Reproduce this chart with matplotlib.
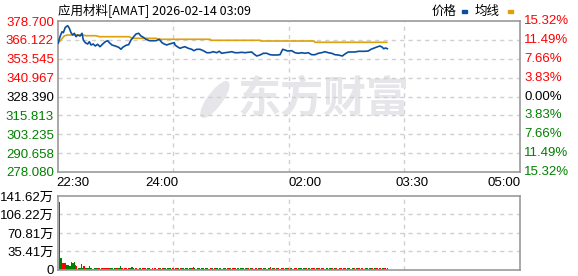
import matplotlib
matplotlib.use("Agg")
import matplotlib.pyplot as plt
from matplotlib.patches import Rectangle, Ellipse

plt.rcParams['font.family'] = ['Liberation Sans', 'Noto Sans CJK SC', 'DejaVu Sans']

RED = '#ff0000'
GREEN = '#008000'
BLUE = '#0a4fa0'
GOLD = '#dca20c'
GRID = '#d0d0d0'
EDGE = '#999999'

# price line (minutes since 22:30, price)
price_min = [0, 1.7, 3.4, 4.5, 6.2, 8.2, 9.6, 11, 12.4, 13.8, 15.2, 16.6, 18.6, 20.3, 21.4,
             23.1, 25.1, 26.5, 27.9, 29.8, 31.5, 33.5, 35.5, 37.8, 40, 42, 43.4, 45.6, 48.4,
             51.3, 53.2, 54.7, 57.5, 59.7, 61.7, 63.6, 65.9, 68.2, 70.1, 72.1, 74.4, 77.2,
             80, 82.8, 85.6, 87.9, 89.8, 91.9, 94.1, 96.3, 98.3, 98.9, 100.8, 103.1, 105.4,
             107.3, 110.1, 113, 114.9, 117.2, 120, 122.8, 125.7, 128.5, 131.2, 134.1, 136.3,
             138.3, 141.1, 143.9, 146.8, 149.6, 152.4, 155.2, 158, 160.8, 163.7, 165.6,
             167.9, 170.7, 173.5, 176.4, 179.2, 181.9, 184.8, 187.6, 189.9, 191.8, 194.1,
             197.5, 200.3, 203.1, 205.9, 208.7, 211.5, 214.4, 217.2, 220, 222.8, 225.6,
             228.4, 231.3, 234.1, 236.9, 240.3, 242.5, 245.3, 248.2, 251, 253.8, 256.6,
             259.4, 262.2, 264.5, 267.3, 270.2, 272.1, 274.1, 275.2, 276.9, 278.3]
price = [363.84, 368.24, 371.57, 370.90, 374.50, 375.57, 373.84, 370.90, 369.37, 370.50,
         368.24, 369.37, 368.70, 370.50, 366.04, 364.24, 363.37, 364.91, 362.71, 363.37,
         362.04, 363.17, 361.57, 363.37, 364.91, 365.57, 364.24, 362.71, 362.04, 361.17,
         359.84, 361.17, 362.51, 362.91, 366.04, 367.84, 370.04, 370.50, 368.70, 367.84,
         366.51, 365.57, 365.57, 365.57, 366.51, 364.24, 363.37, 362.71, 363.37, 363.84,
         364.24, 362.71, 361.57, 360.51, 361.17, 361.57, 360.51, 359.84, 358.91, 359.84,
         359.84, 358.91, 357.58, 357.58, 358.24, 357.58, 358.51, 357.18, 357.58, 357.84,
         358.24, 357.58, 357.58, 357.84, 357.58, 357.84, 358.04, 356.71, 355.38, 356.04,
         357.18, 357.18, 356.24, 356.04, 356.04, 356.24, 359.84, 359.38, 358.71, 358.91,
         357.58, 357.18, 357.58, 357.18, 357.58, 356.24, 356.24, 357.18, 357.58, 358.24,
         357.58, 357.18, 356.24, 356.04, 355.38, 356.71, 358.04, 358.04, 358.04, 358.51,
         358.51, 358.51, 358.71, 359.84, 360.71, 361.57, 362.04, 361.17, 360.24, 360.71,
         360.24]

# average line
avg_min = [0, 3.4, 5.3, 8.2, 20.8, 23.7, 32.1, 34.9, 60.3, 62.5, 82.8, 85.6, 128.5, 129.3,
           170.7, 171.6, 216.4, 217.2, 277.8]
avg = [363.84, 367.0, 368.8, 369.37, 369.37, 368.9, 368.9, 368.24, 368.24, 367.17, 367.17,
       366.51, 366.51, 365.84, 365.84, 365.37, 365.37, 364.51, 364.51]

# volume per minute (万) and up/down colour
vol = [130.7, 23.5, 13.4, 13.4, 13.4, 13.4, 9.6, 9.6, 7.0, 7.0,
       15.9, 12.8, 15.9, 9.6, 8.3, 2.5, 3.5, 4.0, 11.5, 3.0,
       8.3, 8.3, 3.0, 3.5, 3.0, 8.3, 3.0, 3.0, 2.5, 4.5,
       4.5, 3.5, 3.0, 3.0, 2.5, 3.0, 4.5, 3.0, 4.5, 3.0,
       4.5, 3.5, 3.0, 3.0, 3.0, 2.5, 3.0, 3.0, 3.0, 3.0,
       3.0, 7.7, 3.0, 3.0, 2.8, 3.2, 3.0, 2.6, 3.0, 3.4,
       3.0, 5.5, 3.0, 2.8, 3.0, 3.2, 2.8, 3.0, 3.0, 2.6,
       3.0, 3.2, 3.0, 2.8, 3.0, 3.0, 3.2, 2.8, 3.0, 2.6,
       3.0, 3.0, 2.8, 3.2, 3.0, 3.0, 2.6, 3.0, 3.2, 3.0,
       2.8, 3.0, 3.0, 3.2, 2.8, 3.0, 3.0, 2.6, 3.0, 3.0,
       3.2, 2.8, 3.0, 3.0, 3.0, 2.6, 3.0, 3.2, 3.0, 2.8,
       3.0, 3.0, 3.0, 6.0, 3.0, 2.8, 3.0, 3.2, 3.0, 2.6,
       3.0, 3.0, 2.8, 3.2, 3.0, 3.0, 2.6, 3.0, 3.2, 3.0,
       2.8, 3.0, 3.0, 3.2, 2.8, 3.0, 3.0, 2.6, 3.0, 3.0,
       3.2, 2.8, 3.0, 3.0, 3.0, 2.6, 3.0, 3.2, 3.0, 2.8,
       3.0, 3.0, 2.8, 3.2, 3.0, 3.0, 2.6, 3.0, 3.2, 3.0,
       2.8, 3.0, 3.0, 3.2, 2.8, 3.0, 3.0, 2.6, 3.0, 3.0,
       3.2, 2.8, 3.0, 3.0, 3.0, 2.6, 3.0, 3.2, 6.0, 2.8,
       3.0, 3.0, 2.8, 3.2, 3.0, 3.0, 2.6, 3.0, 3.2, 4.5,
       2.8, 3.0, 3.0, 3.2, 2.8, 3.0, 3.0, 2.6, 3.0, 3.0,
       3.2, 2.8, 3.0, 3.0, 3.0, 2.6, 3.0, 3.2, 3.0, 2.8,
       3.0, 3.0, 2.8, 3.2, 3.0, 3.0, 2.6, 3.0, 3.2, 3.0,
       2.8, 3.0, 3.0, 3.2, 2.8, 3.0, 3.0, 2.6, 3.0, 3.0,
       3.2, 2.8, 3.0, 3.0, 3.0, 2.6, 3.0, 3.2, 3.0, 2.8,
       3.0, 3.0, 2.8, 3.2, 3.0, 3.0, 2.6, 3.0, 3.2, 3.0,
       2.8, 3.0, 3.0, 3.2, 2.8, 3.0, 3.0, 2.6, 3.0, 3.0,
       3.2, 2.8, 3.0, 3.0, 3.0, 2.6, 3.0, 3.2, 3.0, 2.8,
       3.0, 3.0, 2.8, 3.2, 3.0, 3.0, 2.6, 3.0]
vol_dir = ("rgrrrrggggggg" "rrgggrg" "rrgggrgg" "rgggrrrgrgrrrrgggrggrggg"
           "rrgrrgrrggrrgrrgggrrgrrggrrgrggrrgrrggrr"
           "ggrrggrrgrrggrrgrggrrggrggrrggrrgggrrgrr"
           "ggrrgrrggrrggrrgrrggrggrrggrrgrrggrrggrr"
           "ggrrgrrggrrggrrgrrgggrrggrrgrrggrrggrrgg"
           "rrgrrggrrgrrggrrggrrggrrgrrggrrggrrgrrgg"
           "rrggrrggrrgrrggrrggrrgrrggrrggrrgrrggrrg")

price_ticks = [378.700, 366.122, 353.545, 340.967, 328.390, 315.813, 303.235, 290.658, 278.080]
pct_labels = ['15.32%', '11.49%', '7.66%', '3.83%', '0.00%', '3.83%', '7.66%', '11.49%', '15.32%']
prev_close = 328.390
time_labels = ['22:30', '24:00', '02:00', '03:30', '05:00']
time_label_pos = [12.3, 88, 208.8, 299.3, 376.9]
vol_ticks = [0, 35.41, 70.81, 106.22, 141.62]
vol_labels = ['0', '35.41万', '70.81万', '106.22万', '141.62万']

fig = plt.figure(figsize=(5.78, 2.76), dpi=100)
ax = fig.add_axes([58 / 578, 104 / 276, 461.5 / 578, 151 / 276])
axv = fig.add_axes([58 / 578, 6 / 276, 461.5 / 578, 74 / 276])

for a in (ax, axv):
    a.set_xlim(0, 390)
    for s in a.spines.values():
        s.set_color(EDGE)
        s.set_linewidth(1.2)
    a.set_xticks([])
    a.tick_params(axis='y', length=0, pad=3, labelsize=9.5)
    for gx in (97.5, 195, 292.5):
        a.axvline(gx, color=GRID, lw=1, ls=(0, (3, 3)), zorder=0)

# watermark
ax.add_patch(Ellipse((0.34, 0.48), 0.035, 0.24, angle=-12, transform=ax.transAxes,
                     color='#e6e6ea', zorder=0))
ax.text(0.39, 0.48, '东方财富', transform=ax.transAxes, ha='left', va='center',
        fontsize=31, fontweight='bold', color='#e6e6ea', family='Noto Sans CJK SC', zorder=0)

# main price panel
ax.set_ylim(price_ticks[-1], price_ticks[0])
for t in price_ticks[1:-1]:
    ax.axhline(t, color=GRID, lw=1, ls=(0, (3, 3)), zorder=0)
ax.plot(avg_min, avg, color=GOLD, lw=1.2, zorder=2)
ax.plot(price_min, price, color=BLUE, lw=1.2, zorder=3)

ax.set_yticks(price_ticks)
ax.set_yticklabels([f'{t:.3f}' for t in price_ticks])
for lab, t, p in zip(ax.get_yticklabels(), price_ticks, pct_labels):
    c = RED if t > prev_close + 0.01 else (GREEN if t < prev_close - 0.01 else 'black')
    lab.set_color(c)
    ax.text(394, t, p, ha='left', va='center', fontsize=9.5, color=c, clip_on=False)

for lab, xp in zip(time_labels, time_label_pos):
    ax.text(xp, price_ticks[-1] - 7.5, lab, ha='center', va='center', fontsize=9.5,
            color='black', clip_on=False)

# volume panel
axv.set_ylim(0, vol_ticks[-1])
for t in vol_ticks[1:-1]:
    axv.axhline(t, color=GRID, lw=1, ls=(0, (3, 3)), zorder=0)
bar_x = [i + 1.6 for i in range(len(vol))]
bar_c = [RED if d == 'r' else GREEN for d in vol_dir[:len(vol)]]
axv.bar(bar_x, vol, width=1.0, color=bar_c, linewidth=0, antialiased=False, zorder=2)
axv.set_yticks(vol_ticks)
axv.set_yticklabels(vol_labels)

# header
fig.text(58 / 578, 1 - 11 / 276, '应用材料[AMAT] 2026-02-14 03:09', ha='left', va='center',
         fontsize=9, family=['Noto Sans CJK SC', 'DejaVu Sans'])
fig.text(432 / 578, 1 - 11 / 276, '价格', ha='left', va='center', fontsize=9,
         family='Noto Sans CJK SC')
fig.text(475 / 578, 1 - 11 / 276, '均线', ha='left', va='center', fontsize=9,
         family='Noto Sans CJK SC')
fig.patches.append(Rectangle((462 / 578, 1 - 13 / 276), 5 / 578, 3 / 276,
                             transform=fig.transFigure, color=BLUE, figure=fig))
fig.patches.append(Rectangle((508 / 578, 1 - 13 / 276), 5 / 578, 3 / 276,
                             transform=fig.transFigure, color=GOLD, figure=fig))

fig.savefig('out.png', dpi=100)
